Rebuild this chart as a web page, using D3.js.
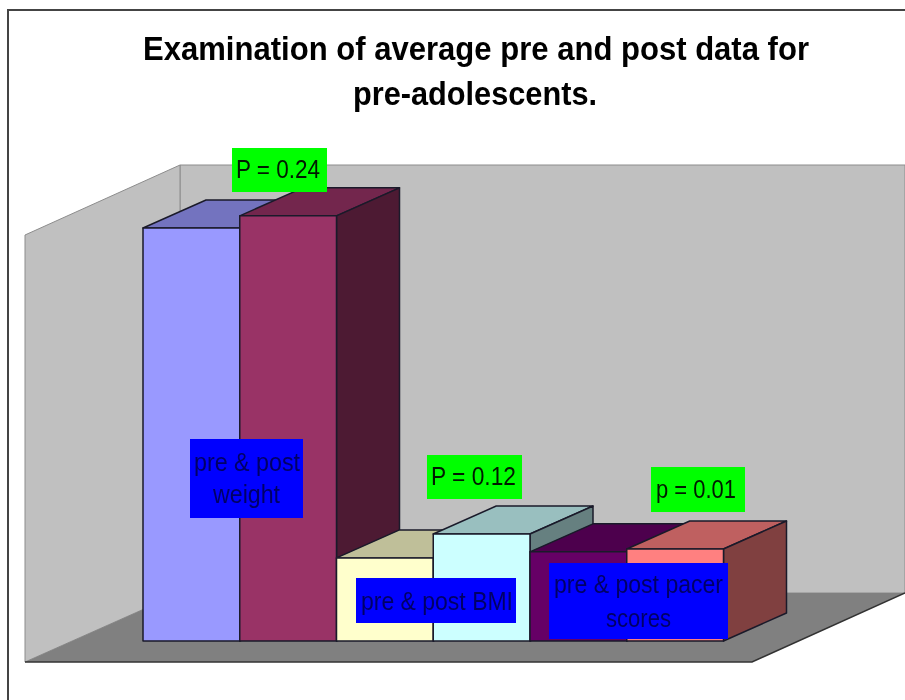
<!DOCTYPE html>
<html>
<head>
<meta charset="utf-8">
<title>Examination of average pre and post data</title>
<script src="https://cdn.jsdelivr.net/npm/d3@7"></script>
<style>
  html, body { margin: 0; padding: 0; background: #fff; }
  /* the original is a soft, resampled screenshot */
  svg { display: block; font-family: "Liberation Sans", Arial, sans-serif; filter: blur(0.4px); }
</style>
</head>
<body>
<div id="chart"></div>
<script>
// Values (the original has no value axis, units are estimated)
const bars = ['pre weight', 'post weight', 'pre BMI', 'post BMI', 'pre pacer', 'post pacer'];
const values = [115.8, 119.2, 23.3, 30, 25, 25.8];
const frontColors = ['#9999ff', '#993366', '#ffffcc', '#ccffff', '#660066', '#ff8080'];
const titleLines = ['Examination of average pre and post data for', 'pre-adolescents.'];
const pValues = ['P = 0.24', 'P = 0.12', 'p = 0.01'];
const groupLabels = [['pre & post', 'weight'], ['pre & post BMI'], ['pre & post pacer', 'scores']];

const width = 905;
const height = 700;

// 3D box layout
const floorY = 641;
const depth = { x: 63, y: -28 };
const wall = { left: 180, right: 905, top: 165, bottom: 593 };
const front = { left: 25, right: 752, bottom: 662, sideTop: 235 };

const xScale = d3.scaleBand().domain(bars).range([143, 723.5]);
const yScale = d3.scaleLinear().domain([0, 120]).range([floorY, 213]);

const svg = d3.select('#chart')
  .append('svg')
  .attr('width', width)
  .attr('height', height);

const pts = arr => arr.map(p => p.join(',')).join(' ');

// Chart frame
svg.append('path')
  .attr('d', `M8,${height}V10H${width}`)
  .attr('fill', 'none')
  .attr('stroke', '#444')
  .attr('stroke-width', 2);

// Title
svg.selectAll('.title')
  .data(titleLines)
  .enter()
  .append('text')
  .attr('class', 'title')
  .attr('x', (d, i) => [143, 353][i])
  .attr('y', (d, i) => [60, 105][i])
  .attr('textLength', (d, i) => [666, 244][i])
  .attr('lengthAdjust', 'spacingAndGlyphs')
  .style('font-size', '33px')
  .style('font-weight', 'bold')
  .style('fill', '#000')
  .text(d => d);

// Walls and floor
svg.append('polygon')
  .attr('points', pts([[wall.left, wall.top], [wall.right, wall.top], [wall.right, wall.bottom], [wall.left, wall.bottom]]))
  .attr('fill', '#c0c0c0')
  .attr('stroke', '#8c8c8c');

svg.append('polygon')
  .attr('points', pts([[front.left, front.sideTop], [wall.left, wall.top], [wall.left, wall.bottom], [front.left, front.bottom]]))
  .attr('fill', '#c0c0c0')
  .attr('stroke', '#8c8c8c');

svg.append('polygon')
  .attr('points', pts([[front.left, front.bottom], [wall.left, wall.bottom], [wall.right, wall.bottom], [front.right, front.bottom]]))
  .attr('fill', '#808080');

svg.append('path')
  .attr('d', `M${front.left},${front.bottom}H${front.right}L${wall.right},${wall.bottom}`)
  .attr('fill', 'none')
  .attr('stroke', '#333')
  .attr('stroke-width', 1.5);

// Bars, drawn left to right so each one covers the depth of the one before
const shade = (c, k) => {
  const rgb = d3.rgb(c);
  return d3.rgb(rgb.r * k, rgb.g * k, rgb.b * k).formatHex();
};

const barGroups = svg.selectAll('.bar')
  .data(bars)
  .enter()
  .append('g')
  .attr('class', 'bar')
  .attr('stroke', '#1a1a2a')
  .attr('stroke-width', 1.5)
  .attr('stroke-linejoin', 'round');

// top face
barGroups.append('polygon')
  .attr('points', (d, i) => {
    const x0 = xScale(d), x1 = x0 + xScale.bandwidth(), y = yScale(values[i]);
    return pts([[x0, y], [x0 + depth.x, y + depth.y], [x1 + depth.x, y + depth.y], [x1, y]]);
  })
  .attr('fill', (d, i) => shade(frontColors[i], 0.75));

// side face
barGroups.append('polygon')
  .attr('points', (d, i) => {
    const x1 = xScale(d) + xScale.bandwidth(), y = yScale(values[i]);
    return pts([[x1, y], [x1 + depth.x, y + depth.y], [x1 + depth.x, floorY + depth.y], [x1, floorY]]);
  })
  .attr('fill', (d, i) => shade(frontColors[i], 0.5));

// front face
barGroups.append('rect')
  .attr('x', d => xScale(d))
  .attr('y', (d, i) => yScale(values[i]))
  .attr('width', xScale.bandwidth())
  .attr('height', (d, i) => floorY - yScale(values[i]))
  .attr('fill', (d, i) => frontColors[i]);

// Hand placed text boxes, as in the original
const pBoxes = [
  { box: [232, 148, 95, 44], tx: 236, ty: 178, tw: 84 },
  { box: [427, 455, 95, 44], tx: 431, ty: 485, tw: 85 },
  { box: [651, 467, 94, 45], tx: 656, ty: 498, tw: 80 }
];

const pGroups = svg.selectAll('.p-label')
  .data(pValues)
  .enter()
  .append('g')
  .attr('class', 'p-label');

pGroups.append('rect')
  .attr('x', (d, i) => pBoxes[i].box[0])
  .attr('y', (d, i) => pBoxes[i].box[1])
  .attr('width', (d, i) => pBoxes[i].box[2])
  .attr('height', (d, i) => pBoxes[i].box[3])
  .attr('fill', '#00ff00');

pGroups.append('text')
  .attr('x', (d, i) => pBoxes[i].tx)
  .attr('y', (d, i) => pBoxes[i].ty)
  .attr('textLength', (d, i) => pBoxes[i].tw)
  .attr('lengthAdjust', 'spacingAndGlyphs')
  .style('font-size', '26px')
  .style('fill', '#001a00')
  .text(d => d);

const groupBoxes = [
  { box: [190, 439, 113, 79], lines: [{ x: 194, y: 471, w: 106 }, { x: 213, y: 503, w: 67 }] },
  { box: [356, 578, 160, 45], lines: [{ x: 361, y: 610, w: 152 }] },
  { box: [549, 563, 179, 76], lines: [{ x: 554, y: 593, w: 169 }, { x: 606, y: 627, w: 65 }] }
];

const labelGroups = svg.selectAll('.group-label')
  .data(groupLabels)
  .enter()
  .append('g')
  .attr('class', 'group-label');

labelGroups.append('rect')
  .attr('x', (d, i) => groupBoxes[i].box[0])
  .attr('y', (d, i) => groupBoxes[i].box[1])
  .attr('width', (d, i) => groupBoxes[i].box[2])
  .attr('height', (d, i) => groupBoxes[i].box[3])
  .attr('fill', '#0000ff');

labelGroups.each(function (lines, i) {
  d3.select(this).selectAll('text')
    .data(lines)
    .enter()
    .append('text')
    .attr('x', (d, j) => groupBoxes[i].lines[j].x)
    .attr('y', (d, j) => groupBoxes[i].lines[j].y)
    .attr('textLength', (d, j) => groupBoxes[i].lines[j].w)
    .attr('lengthAdjust', 'spacingAndGlyphs')
    .style('font-size', '25px')
    .style('fill', '#000066')
    .text(d => d);
});
</script>
</body>
</html>
